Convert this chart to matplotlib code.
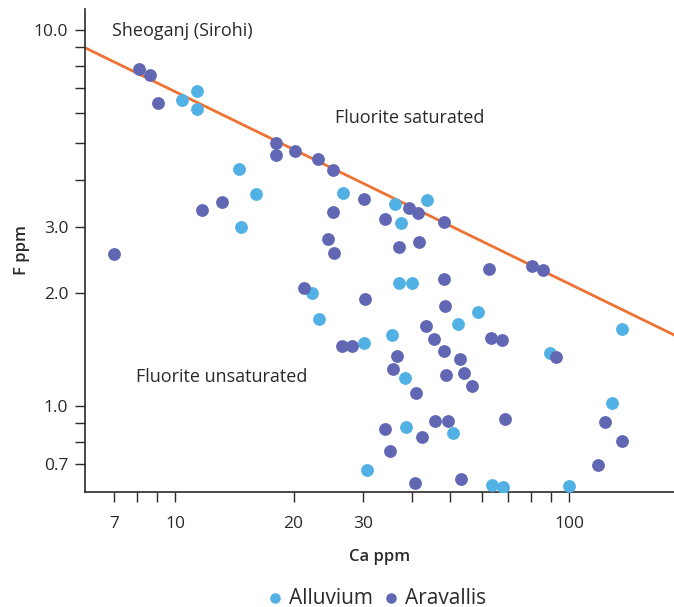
import numpy as np
import matplotlib
matplotlib.use("Agg")
import matplotlib.pyplot as plt
from matplotlib.ticker import FixedLocator, NullFormatter, FixedFormatter

plt.rcParams['font.family'] = ['Open Sans', 'DejaVu Sans']

# Ca ppm / F ppm
alluvium_ca = [10.4, 11.4, 11.4, 14.5, 16.1, 14.7, 26.7, 36.1, 43.6, 37.5,
               22.3, 23.2, 37.0, 40.0, 58.7, 52.2, 136.1, 35.6, 30.1, 89.3,
               38.4, 128.4, 38.6, 50.8, 30.8, 63.7, 67.9, 99.8]
alluvium_f = [6.53, 6.88, 6.18, 4.26, 3.66, 2.99, 3.69, 3.45, 3.52, 3.07,
              2.00, 1.70, 2.12, 2.12, 1.775, 1.65, 1.60, 1.54, 1.47, 1.38,
              1.185, 1.017, 0.881, 0.848, 0.676, 0.618, 0.610, 0.613]

aravallis_ca = [8.09, 8.63, 9.06, 18.0, 18.0, 20.2, 23.1, 25.2, 11.7, 13.2,
                7.00, 25.2, 24.5, 25.4, 30.2, 39.3, 41.5, 48.3, 34.1, 37.1,
                41.6, 62.7, 80.7, 85.8, 48.2, 21.2, 30.4, 48.4, 43.4, 45.4,
                63.4, 67.7, 26.5, 28.1, 48.2, 92.9, 36.6, 53.0, 35.7, 48.7,
                54.2, 56.6, 40.9, 45.8, 49.2, 68.7, 123.4, 34.1, 42.3, 136.6,
                35.2, 118.7, 40.7, 53.3]
aravallis_f = [7.89, 7.60, 6.41, 5.01, 4.65, 4.76, 4.53, 4.23, 3.33, 3.49,
               2.54, 3.28, 2.78, 2.55, 3.55, 3.36, 3.26, 3.09, 3.14, 2.64,
               2.73, 2.32, 2.35, 2.30, 2.18, 2.06, 1.93, 1.84, 1.63, 1.51,
               1.52, 1.50, 1.44, 1.44, 1.40, 1.35, 1.36, 1.33, 1.25, 1.21,
               1.22, 1.13, 1.085, 0.914, 0.914, 0.922, 0.907, 0.867, 0.826, 0.809,
               0.758, 0.697, 0.625, 0.639]

# fluorite saturation line end points
line_ca = [5.91, 184.7]
line_f = [8.97, 1.545]

x_major = [7, 10, 20, 30, 100]
x_minor = [8, 9, 40, 50, 60, 70, 80, 90]
y_major = [0.7, 1.0, 2.0, 3.0, 10.0]
y_labels = ['0.7', '1.0', '2.0', '3.0', '10.0']
y_minor = [0.8, 0.9, 4, 5, 6, 7, 8, 9]

c_all = '#52b1e4'
c_ara = '#6267b4'
c_line = '#ee7233'
txt = '#2a2a2a'

fig = plt.figure(figsize=(6.74, 6.07), dpi=100)
ax = fig.add_axes([0.126, 0.1895, 0.874, 0.7957])

ax.plot(line_ca, line_f, color=c_line, lw=2, zorder=2)
ax.scatter(alluvium_ca, alluvium_f, s=85, color=c_all, lw=0, zorder=3, label='Alluvium')
ax.scatter(aravallis_ca, aravallis_f, s=85, color=c_ara, lw=0, zorder=3, label='Aravallis')

ax.set_xscale('log')
ax.set_yscale('log')
ax.set_xlim(5.91, 184.7)
ax.set_ylim(0.5904, 11.37)

ax.xaxis.set_major_locator(FixedLocator(x_major))
ax.xaxis.set_major_formatter(FixedFormatter([str(v) for v in x_major]))
ax.xaxis.set_minor_locator(FixedLocator(x_minor))
ax.xaxis.set_minor_formatter(NullFormatter())
ax.yaxis.set_major_locator(FixedLocator(y_major))
ax.yaxis.set_major_formatter(FixedFormatter(y_labels))
ax.yaxis.set_minor_locator(FixedLocator(y_minor))
ax.yaxis.set_minor_formatter(NullFormatter())

for s in ['top', 'right']:
    ax.spines[s].set_visible(False)
for s in ['left', 'bottom']:
    ax.spines[s].set_color(txt)
    ax.spines[s].set_linewidth(1.2)
ax.tick_params(which='both', length=7, width=1, color=txt, labelcolor=txt,
               labelsize=12.5)
ax.tick_params(axis='x', which='both', pad=10)
ax.tick_params(axis='y', which='both', pad=5)

ax.text(6.92, 9.94, 'Sheoganj (Sirohi)', fontsize=13, color=txt, va='center')
ax.text(25.5, 5.83, 'Fluorite saturated', fontsize=13, color=txt, va='center')
ax.text(7.96, 1.195, 'Fluorite unsaturated', fontsize=13, color=txt, va='center')

ax.set_xlabel('Ca ppm', fontsize=12, fontweight='semibold', color=txt)
ax.xaxis.set_label_coords(0.5, -0.118)
ax.set_ylabel('F ppm', fontsize=12, fontweight='semibold', color=txt)
ax.yaxis.set_label_coords(-0.0935, 0.5)

ax.legend(loc='center', bbox_to_anchor=(0.557, 0.0148), bbox_transform=fig.transFigure,
          ncol=2, frameon=False, fontsize=15, handlelength=1.0, handletextpad=0.17,
          columnspacing=0.41, markerscale=0.82, labelcolor=txt)

fig.savefig('out.png', dpi=100)
